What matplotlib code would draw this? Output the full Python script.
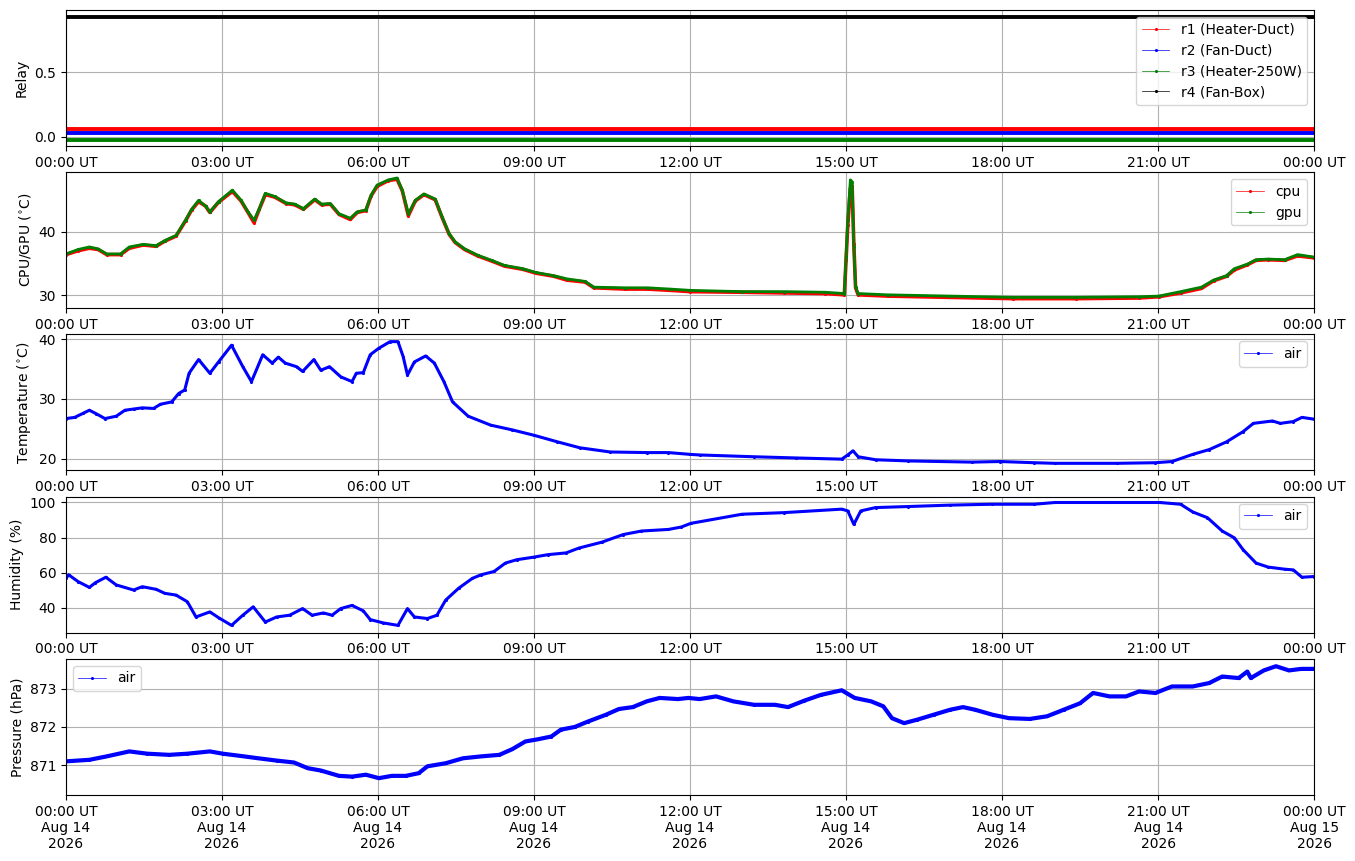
import numpy as np
import pandas as pd
import matplotlib
matplotlib.use("Agg")
import matplotlib.pyplot as plt
import matplotlib.dates as mdates

DAY = pd.Timestamp("2026-08-14")

# relay states (0/1), held over the whole day
relay_times = ["00:00", "24:00"]
r1_state = [0, 0]
r2_state = [0, 0]
r3_state = [0, 0]
r4_state = [1, 1]
relay_labels = ["r1 (Heater-Duct)", "r2 (Fan-Duct)", "r3 (Heater-250W)", "r4 (Fan-Box)"]

cpu_times = ["00:00", "00:14", "00:27", "00:37", "00:47", "01:03", "01:13", "01:29", "01:44", "01:54",
             "02:07", "02:18", "02:25", "02:33", "02:41", "02:46", "02:56", "03:12", "03:22", "03:30",
             "03:37", "03:43", "03:50", "04:01", "04:14", "04:24", "04:34", "04:47", "04:55", "05:05",
             "05:15", "05:28", "05:36", "05:46", "05:52", "05:59", "06:12", "06:22", "06:28", "06:35",
             "06:43", "06:53", "07:06", "07:14", "07:22", "07:29", "07:40", "07:55", "08:11", "08:26",
             "08:47", "09:02", "09:23", "09:38", "09:59", "10:09", "10:45", "11:11", "11:37", "12:00",
             "13:00", "13:48", "14:36", "14:58", "15:00", "15:02", "15:05", "15:07", "15:09", "15:11",
             "15:14", "15:48", "17:00", "18:13", "19:25", "20:38", "21:01", "21:26", "21:50", "22:04",
             "22:19", "22:28", "22:43", "22:53", "23:07", "23:26", "23:41", "24:00"]
cpu = [36.4, 37.0, 37.4, 37.2, 36.4, 36.4, 37.4, 37.9, 37.7, 38.5,
       39.3, 41.7, 43.4, 44.7, 44.0, 43.0, 44.6, 46.3, 44.8, 43.0,
       41.4, 43.5, 45.8, 45.4, 44.4, 44.2, 43.5, 45.0, 44.2, 44.3,
       42.7, 41.9, 43.0, 43.3, 45.6, 47.1, 48.0, 48.2, 46.4, 42.5,
       44.8, 45.8, 45.0, 42.2, 39.6, 38.3, 37.2, 36.2, 35.4, 34.6,
       34.1, 33.5, 33.0, 32.4, 32.1, 31.2, 31.0, 31.0, 30.8, 30.6,
       30.5, 30.4, 30.3, 30.1, 35.5, 41.0, 46.8, 47.2, 38.0, 31.2,
       30.1, 29.9, 29.7, 29.5, 29.5, 29.6, 29.8, 30.4, 31.1, 32.3,
       33.0, 34.0, 34.8, 35.5, 35.6, 35.5, 36.2, 35.9]
gpu = [36.5, 37.2, 37.6, 37.3, 36.5, 36.5, 37.6, 38.0, 37.8, 38.6,
       39.4, 41.8, 43.5, 44.9, 44.0, 43.1, 44.7, 46.5, 44.9, 43.1,
       41.8, 43.6, 46.0, 45.5, 44.5, 44.3, 43.6, 45.1, 44.3, 44.4,
       42.8, 42.1, 43.1, 43.4, 45.7, 47.3, 48.1, 48.4, 46.5, 42.8,
       44.9, 45.9, 45.1, 42.3, 39.7, 38.4, 37.3, 36.3, 35.5, 34.7,
       34.2, 33.6, 33.1, 32.6, 32.2, 31.3, 31.2, 31.2, 31.0, 30.8,
       30.6, 30.6, 30.5, 30.3, 36.0, 41.8, 48.1, 47.8, 37.6, 31.3,
       30.3, 30.1, 29.9, 29.7, 29.7, 29.8, 29.9, 30.6, 31.3, 32.4,
       33.1, 34.2, 34.9, 35.6, 35.7, 35.6, 36.4, 36.0]

temp_times = ["00:00", "00:10", "00:20", "00:27", "00:35", "00:45", "00:58", "01:08", "01:18", "01:28",
              "01:41", "01:49", "02:02", "02:10", "02:17", "02:22", "02:33", "02:46", "02:56", "03:11",
              "03:24", "03:34", "03:47", "03:58", "04:05", "04:13", "04:26", "04:33", "04:46", "04:54",
              "05:04", "05:17", "05:30", "05:35", "05:43", "05:51", "06:01", "06:14", "06:23", "06:29",
              "06:34", "06:42", "06:55", "07:05", "07:16", "07:26", "07:44", "08:10", "08:35", "09:00",
              "09:27", "09:53", "10:28", "11:10", "11:35", "12:00", "12:11", "13:14", "14:02", "14:55",
              "15:02", "15:08", "15:14", "15:34", "16:12", "17:25", "17:58", "18:37", "19:01", "20:13",
              "20:57", "21:16", "21:40", "21:59", "22:19", "22:38", "22:50", "23:12", "23:21", "23:36",
              "23:46", "24:00"]
temp_air = [26.7, 26.9, 27.6, 28.1, 27.5, 26.7, 27.1, 28.1, 28.3, 28.5,
            28.4, 29.1, 29.5, 30.9, 31.5, 34.3, 36.6, 34.3, 36.2, 39.0,
            35.4, 32.9, 37.4, 36.0, 37.0, 36.0, 35.4, 34.6, 36.6, 34.8,
            35.4, 33.7, 32.9, 34.3, 34.4, 37.4, 38.5, 39.6, 39.6, 37.1,
            34.0, 36.2, 37.2, 36.0, 32.9, 29.5, 27.1, 25.6, 24.8, 23.9,
            22.8, 21.8, 21.1, 21.0, 21.0, 20.7, 20.6, 20.3, 20.1, 19.9,
            20.6, 21.3, 20.3, 19.8, 19.6, 19.4, 19.5, 19.3, 19.2, 19.2,
            19.3, 19.5, 20.7, 21.5, 22.8, 24.5, 25.9, 26.3, 25.9, 26.2,
            26.9, 26.6]

hum_times = ["00:00", "00:03", "00:14", "00:27", "00:34", "00:46", "00:58", "01:18", "01:28", "01:44",
             "01:54", "02:07", "02:20", "02:30", "02:46", "02:56", "03:11", "03:24", "03:36", "03:50",
             "04:03", "04:18", "04:33", "04:44", "04:57", "05:07", "05:17", "05:30", "05:43", "05:51",
             "06:06", "06:23", "06:34", "06:42", "06:57", "07:08", "07:18", "07:33", "07:49", "07:59",
             "08:14", "08:27", "08:40", "09:00", "09:16", "09:37", "09:52", "10:18", "10:43", "11:04",
             "11:35", "11:50", "12:01", "13:00", "13:48", "14:55", "15:02", "15:09", "15:17", "15:34",
             "16:12", "17:00", "17:48", "18:37", "19:01", "20:00", "21:02", "21:26", "21:40", "21:57",
             "22:14", "22:28", "22:38", "22:53", "23:07", "23:26", "23:36", "23:46", "24:00"]
hum_air = [56.7, 58.7, 54.8, 51.5, 54.2, 57.3, 52.9, 50.0, 51.9, 50.4,
           48.1, 47.1, 43.3, 34.6, 37.5, 34.2, 29.8, 35.6, 40.4, 31.7,
           34.6, 35.6, 39.4, 35.6, 36.9, 35.6, 39.4, 41.2, 38.1, 33.1,
           31.2, 29.8, 39.4, 34.6, 33.7, 35.6, 44.2, 51.0, 56.7, 58.7,
           60.6, 65.4, 67.3, 68.8, 70.2, 71.2, 74.0, 77.3, 81.7, 83.7,
           84.6, 86.0, 88.1, 93.3, 94.2, 96.2, 95.2, 87.5, 95.2, 97.1,
           97.7, 98.5, 99.0, 99.0, 100.0, 100.0, 100.0, 99.0, 94.6, 91.3,
           83.7, 79.8, 73.1, 65.4, 63.1, 61.9, 61.5, 57.3, 57.7]

pres_times = ["00:00", "00:27", "00:47", "01:13", "01:34", "01:59", "02:20", "02:46", "03:01", "03:22",
              "03:42", "04:03", "04:23", "04:39", "04:54", "05:15", "05:30", "05:46", "06:01", "06:16",
              "06:32", "06:47", "06:57", "07:18", "07:38", "07:59", "08:20", "08:35", "08:50", "09:05",
              "09:20", "09:31", "09:47", "10:02", "10:23", "10:38", "10:54", "11:10", "11:25", "11:46",
              "11:58", "12:11", "12:30", "12:50", "13:14", "13:38", "13:53", "14:12", "14:31", "14:55",
              "15:10", "15:29", "15:43", "15:53", "16:07", "16:22", "16:41", "17:00", "17:15", "17:29",
              "17:49", "18:08", "18:32", "18:52", "19:11", "19:30", "19:45", "20:04", "20:23", "20:38",
              "20:57", "21:16", "21:40", "21:59", "22:14", "22:33", "22:43", "22:47", "23:02", "23:16",
              "23:31", "23:45", "24:00"]
pres_air = [871.10, 871.14, 871.23, 871.36, 871.30, 871.27, 871.30, 871.36, 871.30, 871.24,
            871.18, 871.12, 871.07, 870.92, 870.86, 870.72, 870.70, 870.75, 870.66, 870.72,
            870.72, 870.79, 870.97, 871.05, 871.18, 871.23, 871.27, 871.42, 871.62, 871.68,
            871.75, 871.93, 872.00, 872.14, 872.32, 872.47, 872.52, 872.67, 872.76, 872.73,
            872.76, 872.73, 872.80, 872.67, 872.58, 872.58, 872.52, 872.69, 872.84, 872.96,
            872.76, 872.67, 872.54, 872.23, 872.10, 872.19, 872.32, 872.45, 872.52, 872.45,
            872.32, 872.23, 872.21, 872.28, 872.45, 872.62, 872.89, 872.80, 872.80, 872.93,
            872.89, 873.06, 873.06, 873.15, 873.32, 873.28, 873.45, 873.28, 873.48, 873.59,
            873.48, 873.52, 873.52]


def to_time(hhmm):
    return DAY + pd.to_timedelta([s + ":00" for s in hhmm])


def trace(ax, times, vals, color, label, band=2.2):
    t = to_time(times)
    ax.plot(t, vals, color=color, lw=band, solid_joinstyle="round", solid_capstyle="butt")
    ax.plot(t, vals, ".-", color=color, lw=0.5, ms=2.5, label=label)


fig, axes = plt.subplots(5, 1, figsize=(13.55, 8.61), dpi=100)
fig.subplots_adjust(left=0.0487, right=0.9698, top=0.9884, bottom=0.0767, hspace=0.193)
ax_r, ax_c, ax_t, ax_h, ax_p = axes

# relays, offset a little so the flat lines don't sit on top of each other
offsets = [0.06, 0.03, -0.03, -0.07]
for st, off, col, lab in zip([r1_state, r2_state, r3_state, r4_state], offsets,
                             ["red", "blue", "green", "black"], relay_labels):
    trace(ax_r, relay_times, np.array(st) + off, col, lab, band=2.8)
ax_r.set_ylim(-0.073, 0.982)
ax_r.set_yticks([0.0, 0.5])
ax_r.set_ylabel("Relay")
ax_r.legend(loc="upper right")

trace(ax_c, cpu_times, cpu, "red", "cpu", band=2.6)
trace(ax_c, cpu_times, gpu, "green", "gpu", band=2.0)
ax_c.set_ylim(28.0, 49.3)
ax_c.set_ylabel(r"CPU/GPU ($^{\circ}$C)")
ax_c.legend(loc="upper right")

trace(ax_t, temp_times, temp_air, "blue", "air")
ax_t.set_ylim(18.0, 40.8)
ax_t.set_ylabel(r"Temperature ($^{\circ}$C)")
ax_t.legend(loc="upper right")

trace(ax_h, hum_times, hum_air, "blue", "air")
ax_h.set_ylim(25.6, 103.3)
ax_h.set_ylabel("Humidity (%)")
ax_h.legend(loc="upper right")

trace(ax_p, pres_times, pres_air, "blue", "air", band=3.0)
ax_p.set_ylim(870.22, 873.78)
ax_p.set_yticks([871, 872, 873])
ax_p.set_ylabel("Pressure (hPa)")
ax_p.legend(loc="upper left")

for ax in axes:
    ax.set_xlim(DAY, DAY + pd.Timedelta(days=1))
    ax.xaxis.set_major_locator(mdates.HourLocator(byhour=range(0, 24, 3)))
    ax.xaxis.set_major_formatter(mdates.DateFormatter("%H:%M UT"))
    ax.grid(True)
ax_p.xaxis.set_major_formatter(mdates.DateFormatter("%H:%M UT\n%b %d\n%Y"))

fig.savefig("out.png", dpi=100)
